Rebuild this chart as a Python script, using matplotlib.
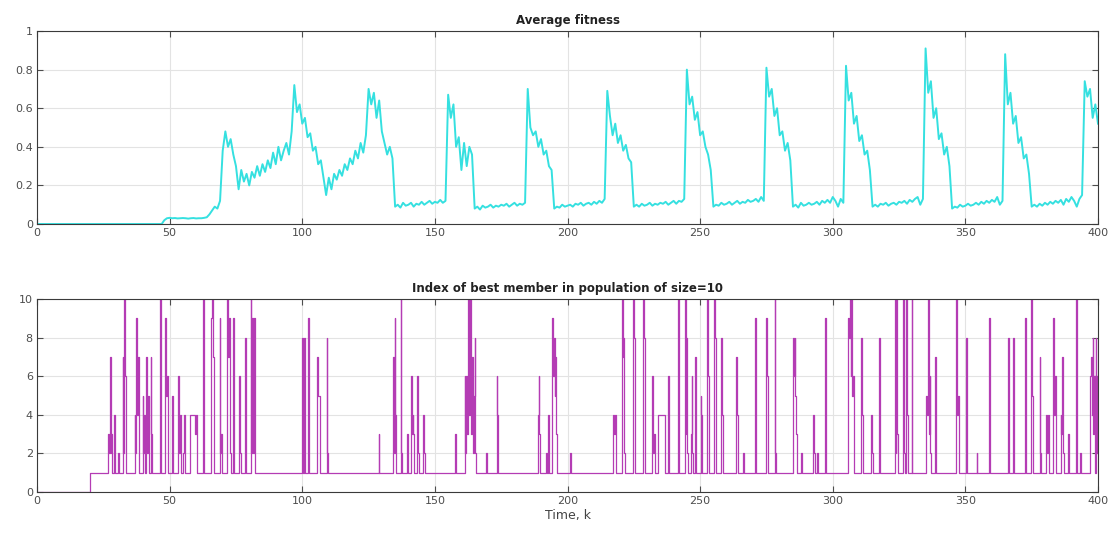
import matplotlib
matplotlib.use("Agg")
import matplotlib.pyplot as plt
import numpy as np

# ---------------- data ----------------
x_ticks = [0, 50, 100, 150, 200, 250, 300, 350, 400]
fit_yticks = [0, 0.2, 0.4, 0.6, 0.8, 1]
fit_ytick_labels = ["0", "0.2", "0.4", "0.6", "0.8", "1"]
idx_yticks = [0, 2, 4, 6, 8, 10]

title_top = "Average fitness"
title_bottom = "Index of best member in population of size=10"
xlabel_bottom = "Time, k"

# average fitness, one value per time step k = 0..400
fitness = [
    # k 0-47
    0.0, 0.0, 0.0, 0.0, 0.0, 0.0, 0.0, 0.0, 0.0, 0.0, 0.0, 0.0,
    0.0, 0.0, 0.0, 0.0, 0.0, 0.0, 0.0, 0.0, 0.0, 0.0, 0.0, 0.0,
    0.0, 0.0, 0.0, 0.0, 0.0, 0.0, 0.0, 0.0, 0.0, 0.0, 0.0, 0.0,
    0.0, 0.0, 0.0, 0.0, 0.0, 0.0, 0.0, 0.0, 0.0, 0.0, 0.0, 0.0,
    # k 48-64
    0.02, 0.03, 0.032, 0.03, 0.031, 0.029, 0.03, 0.031, 0.03, 0.028,
    0.03, 0.031, 0.029, 0.03, 0.03, 0.032, 0.035,
    # k 65-69
    0.05, 0.07, 0.09, 0.08, 0.12,
    # k 70-75
    0.38, 0.48, 0.40, 0.44, 0.36, 0.30,
    # k 76-96
    0.18, 0.28, 0.22, 0.26, 0.20, 0.27, 0.24, 0.30, 0.25, 0.31, 0.27,
    0.33, 0.29, 0.37, 0.31, 0.40, 0.33, 0.38, 0.42, 0.36, 0.48,
    # k 97-109
    0.72, 0.58, 0.62, 0.52, 0.55, 0.45, 0.47, 0.38, 0.40, 0.31, 0.33, 0.24, 0.15,
    # k 110-124
    0.24, 0.18, 0.26, 0.23, 0.28, 0.25, 0.31, 0.28, 0.34, 0.31, 0.38, 0.34, 0.42, 0.37, 0.46,
    # k 125-134
    0.70, 0.62, 0.68, 0.55, 0.64, 0.48, 0.42, 0.36, 0.40, 0.34,
    # k 135-154
    0.09, 0.10, 0.085, 0.11, 0.095, 0.10, 0.11, 0.09, 0.105, 0.10,
    0.115, 0.10, 0.11, 0.12, 0.105, 0.115, 0.11, 0.125, 0.11, 0.12,
    # k 155-164
    0.67, 0.55, 0.62, 0.40, 0.45, 0.28, 0.42, 0.30, 0.40, 0.36,
    # k 165-184
    0.08, 0.09, 0.075, 0.095, 0.085, 0.09, 0.10, 0.085, 0.095, 0.09,
    0.10, 0.095, 0.105, 0.09, 0.10, 0.11, 0.095, 0.105, 0.10, 0.11,
    # k 185-194
    0.70, 0.50, 0.46, 0.48, 0.40, 0.44, 0.36, 0.38, 0.30, 0.28,
    # k 195-214
    0.08, 0.09, 0.085, 0.10, 0.09, 0.095, 0.10, 0.09, 0.105, 0.10,
    0.11, 0.095, 0.105, 0.11, 0.10, 0.115, 0.105, 0.12, 0.11, 0.13,
    # k 215-224
    0.69, 0.56, 0.46, 0.52, 0.42, 0.46, 0.38, 0.41, 0.34, 0.32,
    # k 225-244
    0.09, 0.10, 0.09, 0.105, 0.095, 0.10, 0.11, 0.095, 0.105, 0.10,
    0.11, 0.105, 0.115, 0.10, 0.11, 0.12, 0.105, 0.12, 0.115, 0.13,
    # k 245-254
    0.80, 0.62, 0.66, 0.54, 0.58, 0.46, 0.48, 0.40, 0.36, 0.28,
    # k 255-274
    0.09, 0.10, 0.095, 0.11, 0.10, 0.105, 0.115, 0.10, 0.11, 0.12,
    0.105, 0.115, 0.11, 0.125, 0.115, 0.12, 0.13, 0.115, 0.14, 0.12,
    # k 275-284
    0.81, 0.66, 0.70, 0.56, 0.60, 0.46, 0.48, 0.38, 0.42, 0.33,
    # k 285-304
    0.09, 0.10, 0.085, 0.11, 0.095, 0.10, 0.11, 0.10, 0.105, 0.115,
    0.10, 0.12, 0.11, 0.125, 0.11, 0.14, 0.12, 0.09, 0.13, 0.11,
    # k 305-314
    0.82, 0.64, 0.68, 0.52, 0.56, 0.43, 0.46, 0.36, 0.38, 0.28,
    # k 315-334
    0.09, 0.10, 0.09, 0.105, 0.10, 0.11, 0.095, 0.105, 0.11, 0.10,
    0.115, 0.11, 0.12, 0.105, 0.125, 0.115, 0.13, 0.14, 0.10, 0.13,
    # k 335-344
    0.91, 0.68, 0.74, 0.55, 0.60, 0.44, 0.47, 0.36, 0.40, 0.30,
    # k 345-364
    0.08, 0.09, 0.085, 0.10, 0.09, 0.095, 0.105, 0.095, 0.10, 0.11,
    0.10, 0.115, 0.105, 0.12, 0.11, 0.125, 0.115, 0.14, 0.10, 0.12,
    # k 365-374
    0.88, 0.62, 0.68, 0.52, 0.56, 0.42, 0.45, 0.34, 0.36, 0.26,
    # k 375-394
    0.09, 0.10, 0.09, 0.105, 0.095, 0.11, 0.10, 0.115, 0.105, 0.12,
    0.11, 0.125, 0.10, 0.13, 0.115, 0.14, 0.12, 0.09, 0.13, 0.15,
    # k 395-400
    0.74, 0.66, 0.70, 0.55, 0.62, 0.52,
]
fitness_k = list(range(len(fitness)))

# index of best member: (time, new value) change points, stair-step series
index_steps = [
    (0, 0), (20, 1),
    (26.8, 3), (27.1, 2), (27.4, 7), (27.7, 2), (28.0, 3), (28.3, 1),
    (29.0, 4), (29.3, 1), (30.6, 2), (30.9, 1),
    (32.3, 7), (32.6, 2), (32.9, 10), (33.2, 6), (33.5, 1),
    (36.8, 4), (37.1, 2), (37.4, 9), (37.7, 4), (38.0, 7), (38.3, 2), (38.6, 1),
    (39.8, 5), (40.1, 2), (40.4, 4), (40.7, 1),
    (41.2, 7), (41.5, 2), (41.8, 5), (42.1, 1),
    (42.8, 7), (43.1, 3), (43.4, 1),
    (46.5, 10), (46.8, 1),
    (48.3, 9), (48.6, 5), (48.9, 6), (49.2, 3), (49.5, 1),
    (50.9, 5), (51.2, 1),
    (53.2, 6), (53.5, 2), (53.8, 4), (54.1, 1),
    (55.0, 2), (55.3, 4), (55.6, 1),
    (57.5, 4), (59.5, 3), (60.0, 4), (60.5, 1),
    (62.5, 10), (62.8, 1),
    (65.7, 9), (66.0, 10), (66.3, 7), (66.6, 1),
    (68.8, 9), (69.1, 2), (69.4, 3), (69.7, 1),
    (71.8, 10), (72.1, 7), (72.4, 9), (72.7, 2), (73.0, 1),
    (73.8, 9), (74.1, 2), (74.4, 1),
    (76.2, 6), (76.5, 2), (76.8, 1),
    (78.3, 8), (78.6, 2), (78.9, 1),
    (80.5, 10), (80.8, 2), (81.1, 9), (81.4, 2), (81.7, 9), (82.0, 2), (82.3, 1),
    (100.0, 8), (100.3, 1), (100.6, 8), (100.9, 1),
    (102.2, 9), (102.5, 1),
    (105.5, 7), (106.0, 5), (106.5, 1),
    (109.2, 8), (109.5, 2), (109.8, 1),
    (128.8, 3), (129.1, 1),
    (134.2, 7), (134.5, 2), (134.8, 9), (135.1, 4), (135.4, 1),
    (137.1, 10), (137.4, 2), (137.7, 1),
    (139.4, 3), (139.7, 1),
    (141.0, 6), (141.3, 3), (141.6, 4), (141.9, 3), (142.2, 1),
    (143.4, 6), (143.7, 2), (144.0, 1),
    (145.5, 4), (145.8, 2), (146.1, 1),
    (157.5, 3), (157.8, 1),
    (161.2, 6), (161.5, 2), (161.8, 6), (162.1, 3),
    (162.6, 10), (162.9, 4), (163.2, 10), (163.5, 5), (163.8, 3), (164.1, 7),
    (164.4, 2), (164.7, 5), (165.0, 8), (165.3, 2), (165.6, 1),
    (169.4, 2), (169.7, 1),
    (173.3, 6), (173.6, 4), (173.9, 1),
    (188.8, 4), (189.1, 6), (189.4, 3), (189.7, 1),
    (192.0, 2), (192.3, 1), (192.7, 4), (193.0, 1),
    (194.2, 9), (194.5, 6), (194.8, 8), (195.1, 5), (195.4, 7), (195.7, 3), (196.0, 1),
    (200.9, 2), (201.2, 1),
    (217.2, 4), (217.5, 3), (217.8, 4), (218.1, 1),
    (220.5, 10), (220.8, 7), (221.1, 8), (221.4, 2), (221.7, 1),
    (224.7, 10), (225.0, 8), (225.3, 3), (225.6, 1),
    (228.5, 10), (228.8, 8), (229.1, 2), (229.4, 1),
    (231.9, 6), (232.2, 2), (232.5, 3), (232.8, 1),
    (234.0, 4), (236.8, 1),
    (238.0, 6), (238.3, 1),
    (241.7, 10), (242.0, 1),
    (244.2, 10), (244.5, 3), (244.8, 8), (245.1, 2), (245.4, 1),
    (246.5, 3), (246.8, 6), (247.1, 2), (247.4, 1),
    (248.0, 7), (248.3, 2), (248.6, 1),
    (250.2, 5), (250.5, 4), (250.8, 1),
    (252.7, 10), (253.0, 6), (253.3, 1),
    (255.2, 10), (255.5, 8), (255.8, 2), (256.1, 1),
    (258.0, 8), (258.3, 4), (258.6, 1),
    (263.7, 7), (264.0, 4), (264.3, 1),
    (266.2, 2), (266.5, 1),
    (270.6, 9), (270.9, 8), (271.2, 1),
    (275.0, 9), (275.3, 6), (275.6, 1),
    (278.1, 10), (278.4, 2), (278.7, 1),
    (285.0, 8), (285.3, 6), (285.6, 8), (285.9, 5), (286.2, 3), (286.5, 1),
    (288.2, 2), (288.5, 1),
    (292.6, 4), (292.9, 2), (293.2, 1),
    (294.0, 2), (294.3, 1),
    (297.0, 9), (297.3, 4), (297.6, 1),
    (305.8, 9), (306.1, 8), (306.4, 10), (306.7, 6), (307.0, 10), (307.3, 5), (307.6, 6), (307.9, 1),
    (310.8, 8), (311.1, 4), (311.4, 1),
    (314.6, 4), (314.9, 2), (315.2, 1),
    (317.4, 8), (317.7, 1),
    (323.4, 10), (323.7, 2), (324.0, 10), (324.3, 3), (324.6, 1),
    (326.5, 10), (326.8, 2), (327.1, 1),
    (327.7, 10), (328.0, 4), (328.3, 1),
    (329.7, 10), (330.0, 1),
    (335.3, 5), (335.6, 4), (335.9, 10), (336.2, 3), (336.5, 6), (336.8, 2), (337.1, 1),
    (338.5, 7), (338.8, 4), (339.1, 1),
    (346.6, 10), (346.9, 4), (347.2, 5), (347.5, 1),
    (350.4, 8), (350.7, 1),
    (354.2, 2), (354.5, 1),
    (359.0, 9), (359.3, 1),
    (366.1, 8), (366.4, 1),
    (368.0, 8), (368.3, 1),
    (372.4, 9), (372.7, 2), (373.0, 1),
    (374.9, 10), (375.2, 5), (375.5, 1),
    (378.0, 7), (378.3, 2), (378.6, 1),
    (380.5, 4), (380.8, 2), (381.1, 4), (381.4, 1),
    (383.1, 9), (383.4, 4), (383.7, 6), (384.0, 2), (384.3, 1),
    (385.9, 4), (386.2, 3), (386.5, 7), (386.8, 2), (387.1, 1),
    (388.7, 3), (389.0, 1),
    (391.6, 10), (391.9, 2), (392.2, 1),
    (393.3, 2), (393.6, 1),
    (396.8, 5), (397.1, 6), (397.4, 7), (397.7, 4), (398.0, 8), (398.3, 3), (398.6, 6), (398.9, 1),
    (399.1, 8), (399.4, 6), (399.7, 2), (400.0, 2),
]
index_t = [p[0] for p in index_steps]
index_v = [p[1] for p in index_steps]

# ---------------- style ----------------
fit_color = "#35e0e0"
idx_color = "#b43cb4"
tick_color = "#4d4d4d"
grid_color = "#e3e3e3"

fig = plt.figure(figsize=(11.12, 5.38), dpi=100)
fig.patch.set_facecolor("white")
ax1 = fig.add_axes([0.0333, 0.5836, 0.9541, 0.3587])
ax2 = fig.add_axes([0.0333, 0.0855, 0.9541, 0.3587])


def style(ax):
    ax.set_xlim(0, 400)
    ax.set_xticks(x_ticks)
    ax.grid(True, color=grid_color, linewidth=0.8)
    ax.set_axisbelow(True)
    ax.tick_params(direction="in", top=True, right=True, length=4,
                   labelsize=8, colors=tick_color, pad=3)
    for s in ax.spines.values():
        s.set_color("#3a3a3a")
        s.set_linewidth(0.8)


ax1.plot(fitness_k, fitness, color=fit_color, linewidth=1.4)
style(ax1)
ax1.set_ylim(0, 1)
ax1.set_yticks(fit_yticks)
ax1.set_yticklabels(fit_ytick_labels)
ax1.set_title(title_top, fontsize=8.5, fontweight="bold", color="#222222", pad=5)

ax2.step(index_t, index_v, where="post", color=idx_color, linewidth=0.9)
style(ax2)
ax2.set_ylim(0, 10)
ax2.set_yticks(idx_yticks)
ax2.set_title(title_bottom, fontsize=8.5, fontweight="bold", color="#222222", pad=5)
ax2.set_xlabel(xlabel_bottom, fontsize=9, color="#444444", labelpad=2)

fig.savefig("out.png", dpi=100, facecolor="white")
